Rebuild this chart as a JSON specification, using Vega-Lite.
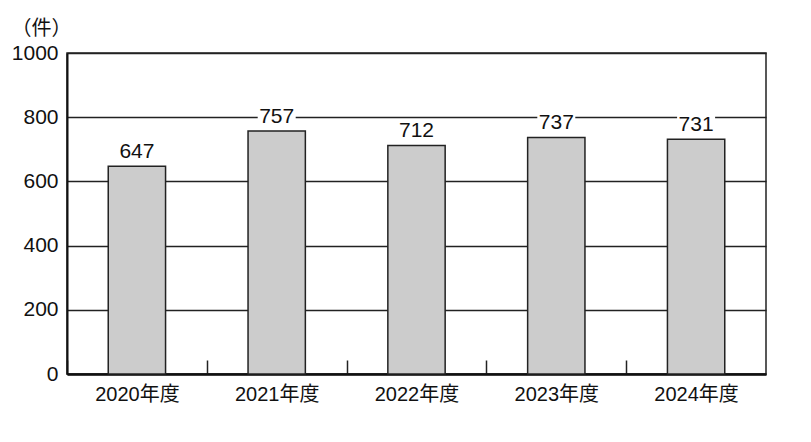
{
  "$schema": "https://vega.github.io/schema/vega-lite/v6.json",
  "width": 699,
  "height": 321,
  "autosize": "none",
  "padding": {"left": 67, "top": 53, "right": 45, "bottom": 68},
  "background": "white",
  "config": {
    "view": {"stroke": "#222", "strokeWidth": 1.5},
    "font": "Liberation Sans Narrow, Arial Narrow, Liberation Sans, Noto Sans CJK JP, sans-serif"
  },
  "data": {
    "values": [
      {"year": "2020年度", "count": 647},
      {"year": "2021年度", "count": 757},
      {"year": "2022年度", "count": 712},
      {"year": "2023年度", "count": 737},
      {"year": "2024年度", "count": 731}
    ]
  },
  "encoding": {
    "x": {
      "field": "year",
      "type": "nominal",
      "sort": null,
      "scale": {"paddingInner": 0.59, "paddingOuter": 0.295},
      "axis": {
        "title": null,
        "labelAngle": 0,
        "labelFontSize": 20,
        "labelColor": "#111",
        "labelPadding": 24,
        "ticks": true,
        "tickSize": -14,
        "tickOffset": -70,
        "labelOffset": 70,
        "tickColor": "#222",
        "tickWidth": 1.5,
        "domainColor": "#111",
        "domainWidth": 2.5,
        "grid": false
      }
    },
    "y": {
      "field": "count",
      "type": "quantitative",
      "scale": {"domain": [0, 1000], "nice": false},
      "axis": {
        "values": [0, 200, 400, 600, 800, 1000],
        "format": "d",
        "title": "（件）",
        "titleAngle": 0,
        "titleAlign": "center",
        "titleBaseline": "bottom",
        "titleX": -26,
        "titleY": -15,
        "titleFontSize": 20,
        "titleFontWeight": "normal",
        "titleColor": "#111",
        "labelFontSize": 21,
        "labelColor": "#111",
        "labelPadding": 9,
        "ticks": false,
        "domainColor": "#111",
        "domainWidth": 2,
        "grid": true,
        "gridColor": "#222",
        "gridWidth": 1.5,
        "gridOpacity": 1
      }
    }
  },
  "layer": [
    {
      "mark": {"type": "bar", "fill": "#cccccc", "stroke": "#222", "strokeWidth": 1.5}
    },
    {
      "mark": {"type": "tick", "orient": "horizontal", "color": "white", "opacity": 1, "size": 38, "thickness": 18, "yOffset": -15}
    },
    {
      "mark": {"type": "text", "baseline": "bottom", "dy": -4, "fontSize": 21, "color": "#111"},
      "encoding": {"text": {"field": "count", "type": "quantitative"}}
    }
  ]
}
